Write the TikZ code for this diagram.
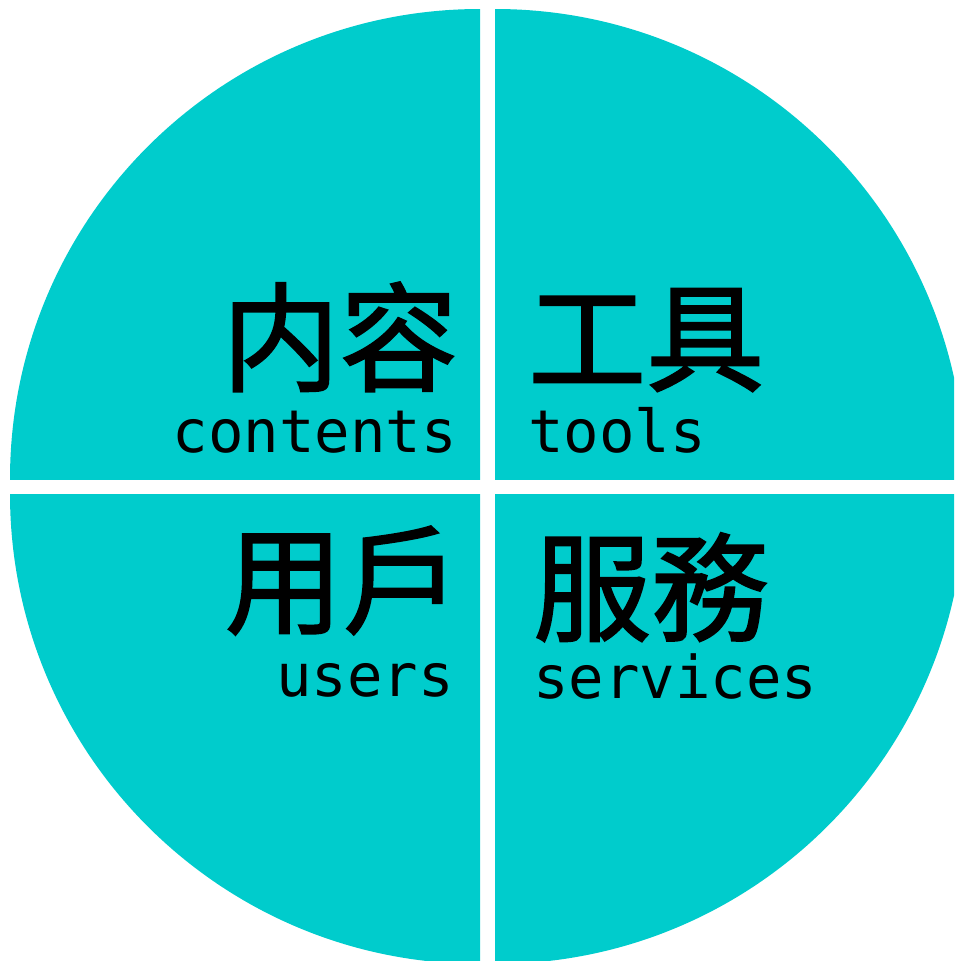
\documentclass[tikz,border=0pt]{standalone}
\usepackage{fontspec}
\setmonofont{DejaVu Sans Mono}
\newfontfamily\cjkfont{Noto Sans CJK TC}[FakeBold=1.6]
\definecolor{quadteal}{RGB}{0,204,204}
\tikzset{
	quadrant/.style={fill=quadteal, draw=none},
	bigword/.style={font=\cjkfont\fontsize{118}{118}\selectfont, inner sep=0pt},
	smallword/.style={font=\ttfamily\fontsize{59}{59}\selectfont, inner sep=0pt},
}

\begin{document}
\begin{tikzpicture}[x=1pt,y=1pt,yscale=-1,xscale=1]
\useasboundingbox (0,0) rectangle (954,961);

% four quarters of the disc, split by white gaps
\foreach \cx/\cy/\ex/\ey in {480/479/0/0, 495/479/954/0, 480/494/0/961, 495/494/954/961}{
	\begin{scope}
		\clip (\cx,\cy) rectangle (\ex,\ey);
		\fill[quadrant] (\cx,\cy) circle[radius=470];
	\end{scope}
}

\node[bigword, anchor=base east] (neirong) at (458,382) {内容};
\node[smallword, anchor=base east] (contents) at (457,452) {contents};
\node[bigword, anchor=base west] (gongju) at (528,382) {工具};
\node[smallword, anchor=base west] (tools) at (528,452) {tools};
\node[bigword, anchor=base east] (yonghu) at (461,625) {用戶};
\node[smallword, anchor=base east] (users) at (454,696) {users};
\node[bigword, anchor=base west] (fuwu) at (533,632) {服務};
\node[smallword, anchor=base west] (services) at (533,698) {services};
\end{tikzpicture}
\end{document}
